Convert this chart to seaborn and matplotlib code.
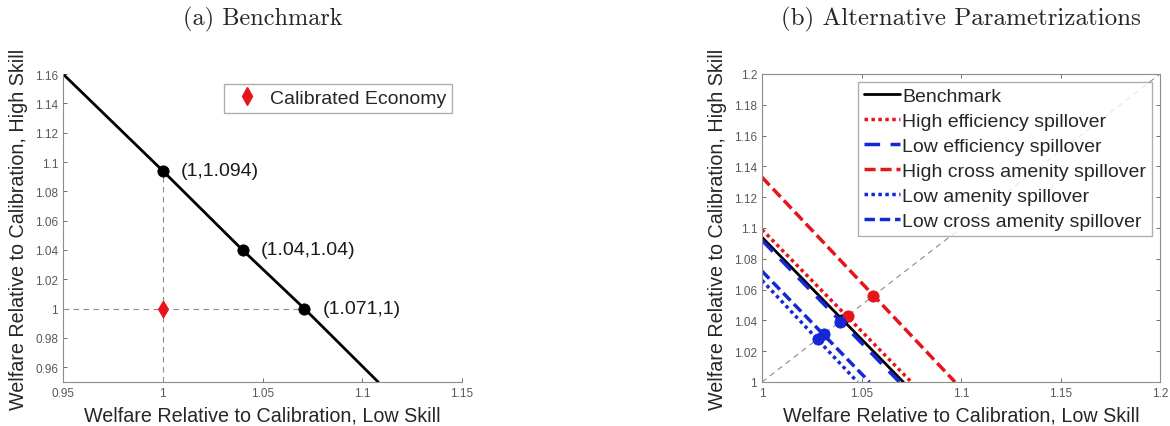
import numpy as np
import pandas as pd
import seaborn as sns
import matplotlib.pyplot as plt
from matplotlib.lines import Line2D

sns.set_style("white")
plt.rcParams["font.family"] = ["Liberation Sans", "DejaVu Sans"]

# (a) benchmark frontier and labelled points
bench_x = [0.95, 1.0, 1.04, 1.071, 1.108]
bench_y = [1.16, 1.094, 1.04, 1.0, 0.95]
point_x = [1.0, 1.04, 1.071]
point_y = [1.094, 1.04, 1.0]
point_labels = ["(1,1.094)", "(1.04,1.04)", "(1.071,1)"]
calib_x = [1.0]
calib_y = [1.0]

# (b) alternative parametrizations: intercepts on each axis and crossing with 45-degree line
series = ["Benchmark", "High efficiency spillover", "Low efficiency spillover",
          "High cross amenity spillover", "Low amenity spillover",
          "Low cross amenity spillover"]
y_at_x1 = [1.094, 1.099, 1.092, 1.133, 1.066, 1.072]
x_at_y1 = [1.071, 1.075, 1.069, 1.097, 1.048, 1.054]
diag_pt = [1.040, 1.043, 1.039, 1.056, 1.028, 1.031]
colors = ["black", "#e8141c", "#1428d8", "#e8141c", "#1428d8", "#1428d8"]
styles = ["-", (0, (1, 1)), (0, (4.5, 3)), (0, (3.2, 1.4)), (0, (1, 1)), (0, (3, 1.4))]

tick_col = "#595959"
label_kw = dict(fontsize=14.2, color="#262626")
txt_size = 14

fig = plt.figure(figsize=(11.7, 4.27), dpi=100)
ax1 = fig.add_axes([63 / 1170, 1 - 383 / 427, 399 / 1170, 308 / 427])
ax2 = fig.add_axes([762 / 1170, 1 - 383 / 427, 398 / 1170, 308 / 427])

# ---- panel (a)
ax1.plot([1.0, 1.0], [0.95, point_y[0]], ls=(0, (5, 4)), color="#8c8c8c", lw=0.8)
ax1.plot([0.95, point_x[2]], [1.0, 1.0], ls=(0, (5, 4)), color="#8c8c8c", lw=0.8)
sns.lineplot(x=bench_x, y=bench_y, sort=False, color="black", lw=2, ax=ax1)
sns.scatterplot(x=point_x, y=point_y, color="black", s=65, edgecolor="black", ax=ax1, zorder=4)
sns.scatterplot(x=calib_x, y=calib_y, color="#e8141c", marker="d", s=75,
                edgecolor="#e8141c", ax=ax1, zorder=5)
for px, py, lab in zip(point_x, point_y, point_labels):
    ax1.annotate(lab, (px, py), xytext=(13, 0), textcoords="offset points",
                 va="center", ha="left", fontsize=txt_size, color="#1a1a1a")

ax1.set_xlim(0.95, 1.15)
ax1.set_ylim(0.95, 1.16)
ax1.set_xticks(np.arange(0.95, 1.1501, 0.05))
ax1.set_yticks(np.arange(0.96, 1.1601, 0.02))
ax1.xaxis.set_major_formatter(plt.FormatStrFormatter("%g"))
ax1.yaxis.set_major_formatter(plt.FormatStrFormatter("%g"))
sns.despine(ax=ax1)
h_cal = Line2D([], [], marker="d", color="#e8141c", ls="", markersize=9)
ax1.legend([h_cal], ["Calibrated Economy"], loc="upper right", fontsize=txt_size,
           frameon=True, fancybox=False, edgecolor="#999999", borderaxespad=0.5,
           handletextpad=0.3, borderpad=0.3, handlelength=1.8)
ax1.set_title("(a) Benchmark", family="cmr10", fontsize=17.5, pad=36)

# ---- panel (b)
ax2.plot([1.0, 1.2], [1.0, 1.2], ls=(0, (5, 4)), color="#8c8c8c", lw=0.8)
handles = []
for name, y0, x0, d, c, st in zip(series, y_at_x1, x_at_y1, diag_pt, colors, styles):
    lw = 2 if name == "Benchmark" else 2.5
    sns.lineplot(x=[1.0, x0], y=[y0, 1.0], color=c, lw=lw, linestyle=st, ax=ax2)
    sns.scatterplot(x=[d], y=[d], color=c, s=65, edgecolor=c, ax=ax2, zorder=4)
    handles.append(Line2D([], [], color=c, lw=lw, ls=st))

ax2.set_xlim(1.0, 1.2)
ax2.set_ylim(1.0, 1.2)
ax2.set_xticks(np.arange(1.0, 1.2001, 0.05))
ax2.set_yticks(np.arange(1.0, 1.2001, 0.02))
ax2.xaxis.set_major_formatter(plt.FormatStrFormatter("%g"))
ax2.yaxis.set_major_formatter(plt.FormatStrFormatter("%g"))
ax2.legend(handles, series, loc="upper right", fontsize=txt_size, frameon=True,
           fancybox=False, edgecolor="#999999", borderaxespad=0.4,
           handlelength=1.9, handletextpad=0.1, labelspacing=0.38, borderpad=0.3)
ax2.set_title("(b) Alternative Parametrizations", family="cmr10", fontsize=18, pad=36)

for ax in (ax1, ax2):
    ax.set_xlabel("Welfare Relative to Calibration, Low Skill", labelpad=5, **label_kw)
    ax.set_ylabel("Welfare Relative to Calibration, High Skill", labelpad=5, **label_kw)
    ax.tick_params(direction="in", length=3, width=0.6, labelsize=8.5,
                   colors=tick_col, bottom=True, left=True,
                   top=(ax is ax2), right=(ax is ax2))
    for sp in ax.spines.values():
        sp.set_color("#8c8c8c")
        sp.set_linewidth(0.8)

fig.savefig("out.png", dpi=100)
